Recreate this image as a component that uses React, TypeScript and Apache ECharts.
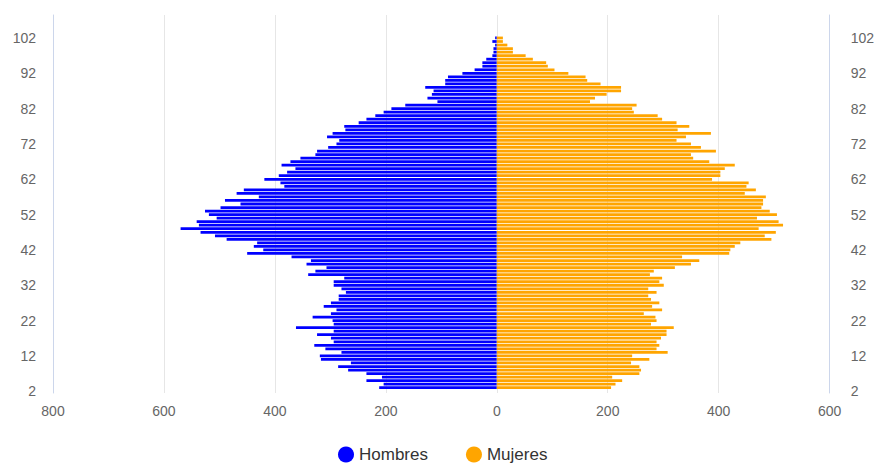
import React, { useEffect, useRef } from "react";
import * as echarts from "echarts";

// Age categories (bottom to top)
const ages: string[] = [
  "2","3","4","5","6","7","8","9","10","11","12","13","14","15","16","17","18","19","20","21",
  "22","23","24","25","26","27","28","29","30","31","32","33","34","35","36","37","38","39","40","41",
  "42","43","44","45","46","47","48","49","50","51","52","53","54","55","56","57","58","59","60","61",
  "62","63","64","65","66","67","68","69","70","71","72","73","74","75","76","77","78","79","80","81",
  "82","83","84","85","86","87","88","89","90","91","92","93","94","95","96","97","98","99","100","101",
  "102","103","104","105","106","107","108",
];

// Hombres (men), by age, ages 2..108
const hombres: number[] = [
  0, 212, 204, 235, 207, 235, 268, 286, 263, 317,
  319, 280, 309, 329, 294, 299, 324, 294, 362, 294,
  296, 332, 299, 289, 312, 299, 285, 285, 272, 280,
  294, 294, 275, 340, 327, 307, 343, 335, 370, 450,
  421, 438, 432, 487, 508, 534, 570, 537, 541, 505,
  519, 526, 498, 462, 490, 429, 469, 456, 383, 390,
  419, 393, 378, 363, 388, 372, 354, 327, 324, 304,
  289, 284, 306, 296, 273, 275, 249, 235, 219, 204,
  190, 165, 107, 125, 117, 114, 129, 93, 93, 88,
  62, 40, 26, 26, 19, 8, 6, 6, 3, 8,
  3, 0, 0, 0, 0, 0, 0,
];

// Mujeres (women), by age, ages 2..108
const mujeres: number[] = [
  0, 206, 214, 226, 208, 257, 260, 257, 242, 275,
  244, 308, 288, 293, 288, 296, 306, 306, 319, 278,
  288, 286, 265, 298, 280, 293, 278, 273, 288, 273,
  301, 293, 298, 276, 283, 321, 350, 365, 334, 419,
  421, 429, 439, 495, 483, 503, 472, 516, 508, 469,
  505, 492, 477, 480, 480, 485, 447, 467, 450, 454,
  388, 403, 403, 411, 429, 383, 354, 350, 395, 368,
  350, 324, 341, 386, 326, 347, 324, 298, 290, 247,
  244, 252, 168, 177, 198, 224, 224, 187, 163, 160,
  129, 104, 92, 89, 65, 52, 29, 29, 19, 11,
  11, 0, 0, 0, 0, 0, 0,
];

const seriesNames = ["Hombres", "Mujeres"];
const seriesColors = ["#0000ff", "#ffa500"];

export default function App() {
  const ref = useRef<HTMLDivElement>(null);

  useEffect(() => {
    document.body.style.margin = "0";
    if (!ref.current) return;
    const chart = echarts.init(ref.current, null, { renderer: "svg" });

    const font = "Liberation Sans, Arial, sans-serif";
    const yAxisBase = {
      type: "category" as const,
      data: ages,
      boundaryGap: true,
      axisLine: { show: true, onZero: false, lineStyle: { color: "#ccd6eb", width: 1 } },
      axisTick: { show: false },
      splitLine: { show: false },
      axisLabel: {
        interval: 9,
        color: "#666666",
        fontSize: 14,
        fontFamily: font,
      },
    };

    chart.setOption({
      animation: false,
      grid: { left: 53, right: 42, top: 15, bottom: 71, containLabel: false },
      legend: {
        data: seriesNames,
        top: 441,
        left: 333,
        icon: "circle",
        itemWidth: 16,
        itemHeight: 16,
        itemGap: 38,
        textStyle: {
          color: "#333333",
          fontSize: 17,
          fontFamily: font,
        },
      },
      xAxis: {
        type: "value",
        min: -800,
        max: 600,
        interval: 200,
        axisLine: { show: false },
        axisTick: { show: false },
        splitLine: { show: true, lineStyle: { color: "#e6e6e6", width: 1 } },
        axisLabel: {
          color: "#666666",
          fontSize: 14,
          margin: 11,
          fontFamily: font,
          formatter: (v: number) => String(Math.abs(v)),
        },
      },
      yAxis: [
        { ...yAxisBase, position: "left", axisLabel: { ...yAxisBase.axisLabel, margin: 17 } },
        { ...yAxisBase, position: "right", axisLabel: { ...yAxisBase.axisLabel, margin: 21 } },
      ],
      series: [
        {
          name: seriesNames[0],
          type: "bar",
          yAxisIndex: 0,
          data: hombres.map((v) => -v),
          itemStyle: { color: seriesColors[0] },
          barGap: "-100%",
          barCategoryGap: "22%",
        },
        {
          name: seriesNames[1],
          type: "bar",
          yAxisIndex: 0,
          data: mujeres,
          itemStyle: { color: seriesColors[1] },
          barGap: "-100%",
          barCategoryGap: "22%",
        },
      ],
    });

    return () => chart.dispose();
  }, []);

  return <div ref={ref} style={{ width: 877, height: 464 }} />;
}
